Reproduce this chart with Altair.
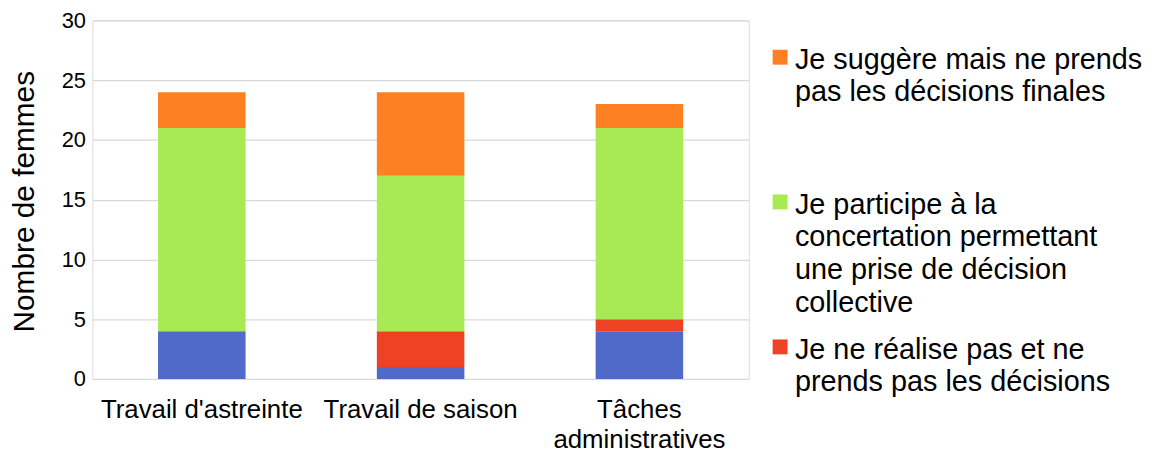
import altair as alt
import pandas as pd

# ---- data ----
category_lines = [["Travail d'astreinte"], ["Travail de saison"], ["Tâches", "administratives"]]
categories = ["\n".join(c) for c in category_lines]

series = [
    "Je réalise et prends les décisions",
    "Je ne réalise pas et ne prends pas les décisions",
    "Je participe à la concertation permettant une prise de décision collective",
    "Je suggère mais ne prends pas les décisions finales",
]
colors = ["#4F6AC8", "#EF4225", "#A8EA54", "#FD8123"]

values_blue = [4, 1, 4]
values_red = [0, 3, 1]
values_green = [17, 13, 16]
values_orange = [3, 7, 2]
all_values = [values_blue, values_red, values_green, values_orange]

y_ticks = [0, 5, 10, 15, 20, 25, 30]
y_title = "Nombre de femmes"

# legend entries shown (index into series) and their wrapped label lines
legend_index = [3, 2, 1]
legend_lines = [
    ["Je suggère mais ne prends", "pas les décisions finales"],
    ["Je participe à la", "concertation permettant", "une prise de décision", "collective"],
    ["Je ne réalise pas et ne", "prends pas les décisions"],
]

rows = []
for si, (s, vals) in enumerate(zip(series, all_values)):
    for c, v in zip(categories, vals):
        rows.append({"categorie": c, "serie": s, "valeur": v, "rang": si})
df = pd.DataFrame(rows)

FONT = "Liberation Sans"
W, H = 661, 361

bars = alt.Chart(df).mark_bar().encode(
    x=alt.X(
        "categorie:N",
        sort=categories,
        title=None,
        scale=alt.Scale(paddingInner=0.6, paddingOuter=0.3),
        axis=alt.Axis(
            labelAngle=0,
            labelExpr="split(datum.label, '\\n')",
            labelFontSize=26,
            labelLineHeight=30,
            labelPadding=18,
            labelLimit=0,
            labelColor="#000000",
            labelFont=FONT,
            ticks=False,
            domain=False,
            grid=False,
        ),
    ),
    y=alt.Y(
        "valeur:Q",
        stack="zero",
        scale=alt.Scale(domain=[0, 30], nice=False, zero=True),
        axis=alt.Axis(
            values=y_ticks,
            title=y_title,
            titleFontSize=30,
            titleFont=FONT,
            titleFontWeight="normal",
            titleColor="#000000",
            titleX=-68,
            titleY=182,
            titleAngle=270,
            titleAlign="center",
            titleBaseline="middle",
            labelFontSize=22,
            labelFont=FONT,
            labelColor="#000000",
            labelPadding=7,
            ticks=False,
            domain=False,
            grid=True,
            gridColor="#D9D9D9",
            gridWidth=1.2,
        ),
    ),
    color=alt.Color(
        "serie:N",
        scale=alt.Scale(domain=series, range=colors),
        legend=None,
    ),
    order=alt.Order("rang:Q", sort="ascending"),
)

layers = [bars]
square_y = [37.0, 182.7, 328.7]
text_y = [48.5, 194.5, 340.5]
for k, si in enumerate(legend_index):
    ldf = pd.DataFrame({"serie": [series[si]], "label": ["\n".join(legend_lines[k])]})
    sq = alt.Chart(ldf).mark_square(size=225, opacity=1, filled=True).encode(
        x=alt.value(692.5), y=alt.value(square_y[k]), color=alt.value(colors[si])
    )
    tx = alt.Chart(ldf).mark_text(
        align="left", baseline="alphabetic", fontSize=29, font=FONT,
        lineBreak="\n", lineHeight=33, color="#000000"
    ).encode(x=alt.value(707.5), y=alt.value(text_y[k]), text="label:N")
    layers += [sq, tx]

chart = alt.layer(*layers).properties(
    width=W,
    height=H,
    autosize=alt.AutoSizeParams(type="none"),
    padding={"left": 85, "top": 11, "right": 402, "bottom": 72},
).configure_view(stroke=None).configure(font=FONT, background="white")

chart.save("out.html", embed_options={"renderer": "svg", "actions": False})
